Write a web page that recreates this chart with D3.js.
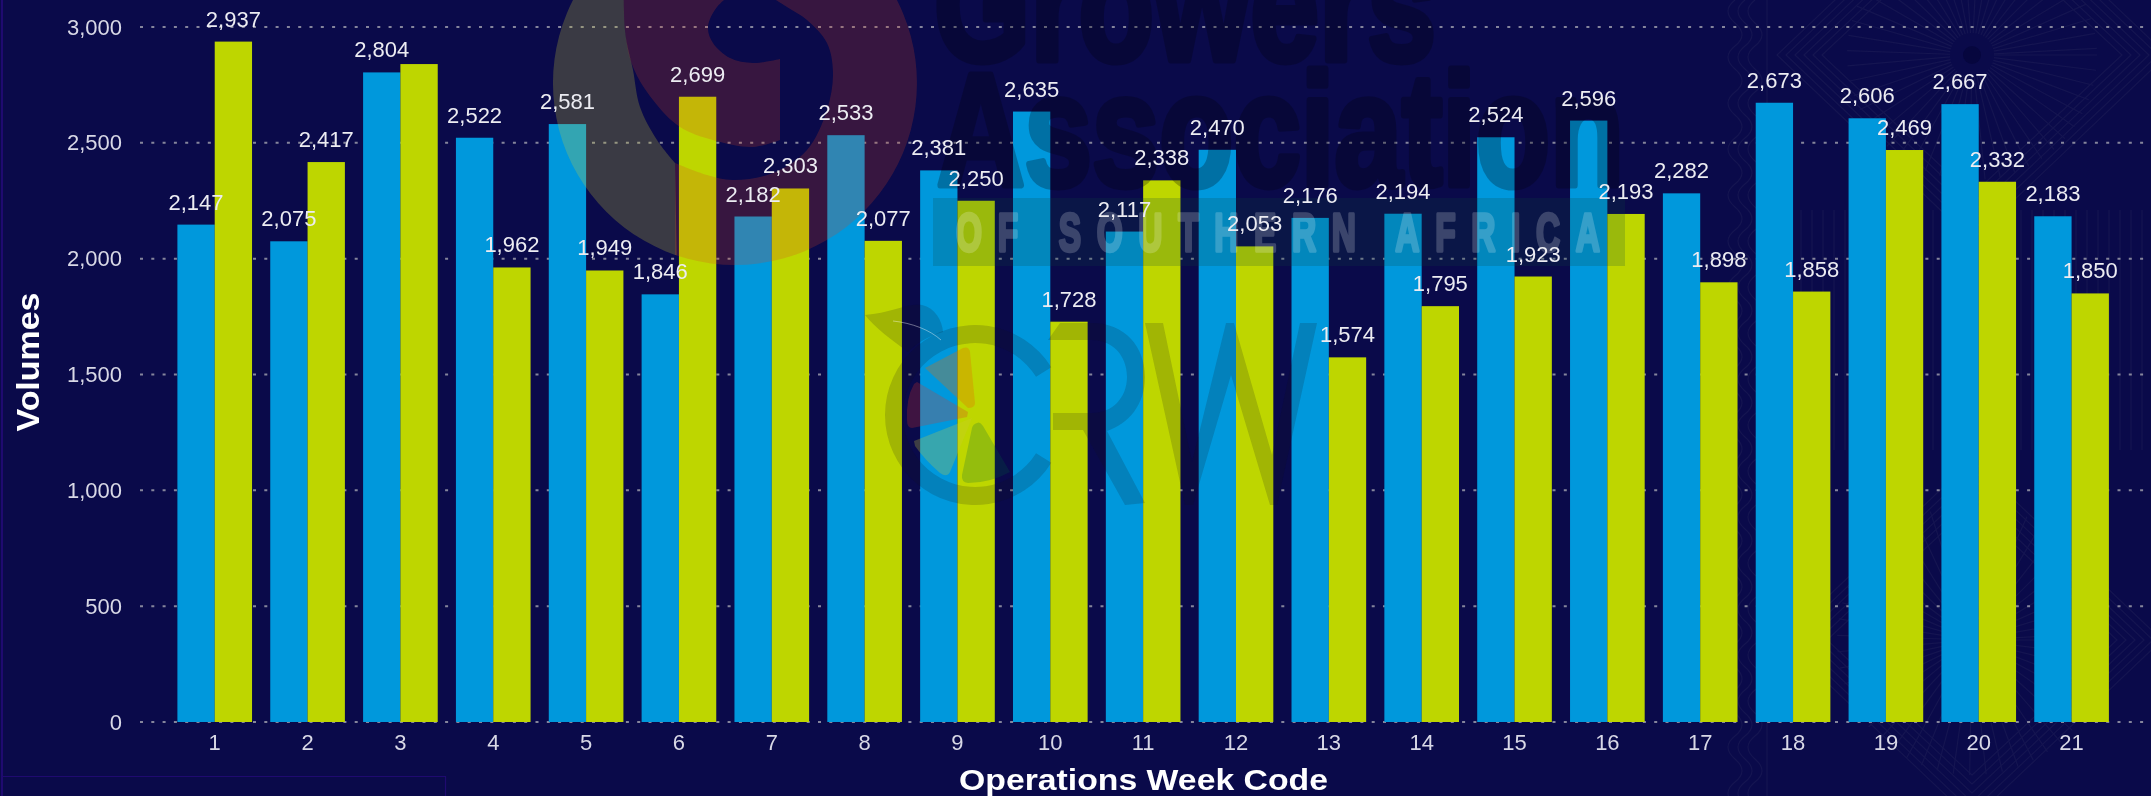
<!DOCTYPE html>
<html>
<head>
<meta charset="utf-8">
<script src="https://cdn.jsdelivr.net/npm/d3@7"></script>
<style>
html,body{margin:0;padding:0;background:#0a0a4a;overflow:hidden}
svg{display:block;filter:blur(0.55px)}
text{font-family:"Liberation Sans",Arial,sans-serif}
</style>
</head>
<body>
<svg id="chart" width="2151" height="796"></svg>
<script>
const weeks = d3.range(1, 22).map(String);
const blueValues = [2147,2075,2804,2522,2581,1846,2182,2533,2381,2635,2117,2470,2176,2194,2524,2596,2282,2673,2606,2667,2183];
const greenValues = [2937,2417,2840,1962,1949,2699,2303,2077,2250,1728,2338,2053,1574,1795,1923,2193,1898,1858,2469,2332,1850];
const unlabeledGreenWeeks = ["3"];
const yTicks = [0,500,1000,1500,2000,2500,3000];
const seriesNames = ["blue","green"];
const seriesColors = ["#0098dc","#bed600"];
const yTitle = "Volumes";
const xTitle = "Operations Week Code";

const svg = d3.select("#chart");
const fmt = d3.format(",");
const x = d3.scaleBand().domain(weeks).range([168.3,2118]).paddingInner(0.196).paddingOuter(0.098);
const xs = d3.scaleBand().domain(seriesNames).range([0,x.bandwidth()]);
const y = d3.scaleLinear().domain([0,3000]).range([722,27]);
const color = d3.scaleOrdinal(seriesNames, seriesColors);
const rows = weeks.flatMap((w,i)=>[
  {week:w,series:"blue",value:blueValues[i]},
  {week:w,series:"green",value:greenValues[i]}
]);

svg.append("rect").attr("width",2151).attr("height",796).attr("fill","#0a0a4a");

/* faint background ornament */
const orn = svg.append("g").attr("fill","none").attr("stroke","#151551").attr("stroke-width",1.2);
[[1972,55],[1972,640]].forEach(([cx,cy],k)=>{
  d3.range(0,360,7).forEach(a=>{
    const r=a*Math.PI/180;
    orn.append("line").attr("x1",cx+Math.cos(r)*22).attr("y1",cy+Math.sin(r)*22)
      .attr("x2",cx+Math.cos(r)*(k?135:125)).attr("y2",cy+Math.sin(r)*(k?135:125));
  });
  d3.range(0,6).forEach(i=>{
    const R=(k?125:130)+i*9;
    orn.append("path").attr("stroke-linejoin","round")
      .attr("d",`M${cx-R-20},${cy}L${cx},${cy-R-10}L${cx+R+20},${cy}L${cx},${cy+R+10}Z`);
  });
});
[1735,1745,1755].forEach(px=>{
  let d=`M${px},0`;
  for(let py=0;py<796;py+=46){d+=`q-14,11 0,23 q14,12 0,23`;}
  orn.append("path").attr("d",d);
});
orn.append("line").attr("x1",1767).attr("x2",1767).attr("y1",0).attr("y2",796);
d3.range(1790,2151,11).forEach(px=>{
  orn.append("line").attr("x1",px).attr("x2",px).attr("y1",210).attr("y2",450);
});
svg.append("circle").attr("cx",1972).attr("cy",55).attr("r",9).attr("fill","#06063e");

/* edge frame */
svg.append("rect").attr("x",1).attr("y",0).attr("width",2).attr("height",796).attr("fill","#1f0a70");
svg.append("path").attr("d","M3,776.5H445.5V796").attr("fill","none").attr("stroke","#1f0a70").attr("stroke-width",1.2);

/* grid + axes */
const yAxis = svg.append("g").attr("transform","translate(140,0)")
  .call(d3.axisLeft(y).tickValues(yTicks).tickFormat(fmt).tickSize(0).tickPadding(18));
yAxis.select(".domain").remove();
yAxis.selectAll("text").attr("font-size",22).attr("fill","#d8d8e6");
svg.append("g").selectAll("line").data(yTicks).join("line")
  .attr("x1",140).attr("x2",2148).attr("y1",d=>y(d)).attr("y2",d=>y(d))
  .attr("stroke","#c8c8c8").attr("stroke-opacity",0.65).attr("stroke-width",2).attr("stroke-dasharray","3 8.3");

const xAxis = svg.append("g").attr("transform","translate(0,722)")
  .call(d3.axisBottom(x).tickSize(0).tickPadding(12));
xAxis.select(".domain").remove();
xAxis.selectAll("text").attr("font-size",22).attr("fill","#d8d8e6").attr("dy","0.71em");

/* bars */
svg.append("g").selectAll("rect").data(rows).join("rect")
  .attr("x",d=>x(d.week)+xs(d.series))
  .attr("y",d=>y(d.value))
  .attr("width",xs.bandwidth())
  .attr("height",d=>y(0)-y(d.value))
  .attr("fill",d=>color(d.series));

/* watermark: G logo */
const wm = svg.append("g");
const ringOuter = "M735,-99A182,182 0 1 1 734.9,-99Z";
const clipId = "gclip";
svg.append("defs").append("clipPath").attr("id",clipId).append("path").attr("d",ringOuter);
const gLogo = wm.append("g").attr("clip-path",`url(#${clipId})`);
const spline = d3.line().curve(d3.curveCatmullRom.alpha(0.5));
const grayEdge = [[625,-100],[625,30],[633,70],[640,107],[657,140],[675,163]];
gLogo.append("path").attr("fill","rgba(205,205,50,.25)")
  .attr("d",spline(grayEdge)+"L677,270H540V-100Z");
const holeOuter = [[675,163],[707,175],[733,180],[773,173],[807,150],[827,110],[833,73],[827,43],[807,20],[787,7],[760,-10]];
const holeInner = [[737,-10],[717,7],[708,27],[713,43],[730,58],[753,63],[780,59]];
const bandInner = [[780,140],[753,147],[713,140],[680,127],[653,100],[633,67],[625,30],[625,-100]];
gLogo.append("path").attr("fill","rgba(218,70,30,.22)")
  .attr("d","M625,-100H930V270H675V163"+spline(holeOuter).replace(/^M/,"L")+spline(holeInner).replace(/^M/,"L")+"L780,140"+spline(bandInner).replace(/^M/,"L")+"Z");

/* watermark: wordmark */
const word = wm.append("g").attr("opacity",0.26);
const heavy = s=>s.attr("font-size",160).attr("font-weight",700).attr("lengthAdjust","spacingAndGlyphs")
  .attr("fill","#000008").attr("stroke","#000008").attr("stroke-width",7).attr("stroke-linejoin","round");
word.append("text").text("Growers").attr("x",934).attr("y",60).attr("textLength",502).call(heavy);
word.append("text").text("Association").attr("x",937).attr("y",185).attr("textLength",687).call(heavy);
wm.append("rect").attr("x",933).attr("y",198).attr("width",692).attr("height",68).attr("fill","rgba(10,70,60,.2)");
wm.append("g").attr("transform","scale(.62,1)").attr("opacity",0.2)
  .append("text").text("OF SOUTHERN AFRICA").attr("x",956/.62).attr("y",251).attr("font-size",54).attr("font-weight",700)
  .attr("textLength",644/.62).attr("lengthAdjust","spacing").attr("fill","#fff")
  .attr("stroke","#fff").attr("stroke-width",3.5).attr("stroke-linejoin","round");

/* watermark: CRW logo */
const dark = "rgba(15,15,25,.17)";
wm.append("path").attr("transform","translate(975,415)").attr("fill",dark)
  .attr("d",d3.arc().innerRadius(72).outerRadius(90).startAngle(122*Math.PI/180).endAngle((360+58)*Math.PI/180)());
wm.append("path").attr("fill",dark).attr("d","M865,315C890,313 908,303 922,305C935,308 942,320 943,332C925,337 915,345 908,352C892,340 875,328 865,315Z");
wm.append("path").attr("fill","none").attr("stroke","rgba(255,255,255,.4)").attr("stroke-width",1).attr("d","M893,321C912,323 930,330 941,340");
wm.append("path").attr("fill",dark).attr("d","M1048,340L1060,323H1092C1125,323 1145,347 1145,377C1145,405 1128,424 1107,431L1145,503L1125,505L1083,430H1053V413H1092C1112,413 1127,398 1127,377C1127,355 1112,340 1092,340Z");
wm.append("path").attr("fill",dark).attr("d","M1145,323H1163L1192,462L1226,323H1234L1272,455L1300,323H1317L1277,505H1270L1231,375L1193,505H1185Z");
wm.append("path").attr("fill","rgba(230,110,0,.3)").attr("d","M925,368L963,348Q969,346 970,352L975,403Q975,408 968,408Z");
wm.append("path").attr("fill","rgba(218,50,40,.25)").attr("d","M917,382L968,412L967,417L912,428Q907,428 907,420Q906,398 914,384Z");
wm.append("path").attr("fill","rgba(205,205,50,.27)").attr("d","M972,418L950,472Q947,478 940,473Q925,460 915,446L914,441Z");
wm.append("path").attr("fill","rgba(0,100,60,.22)").attr("d","M977,423Q980,421 983,426L1010,472Q990,483 968,483Q961,482 962,475L972,428Q973,424 977,423Z");

/* value labels */
svg.append("g").selectAll("text")
  .data(rows.filter(d=>!(d.series==="green" && unlabeledGreenWeeks.includes(d.week))))
  .join("text")
  .text(d=>fmt(d.value))
  .attr("x",d=>x(d.week)+xs(d.series)+xs.bandwidth()/2)
  .attr("y",d=>y(d.value)-15)
  .attr("text-anchor","middle").attr("font-size",22).attr("fill","#ececf2");

/* axis titles */
svg.append("text").text(xTitle).attr("x",959).attr("y",790).attr("font-size",28.6).attr("font-weight",700)
  .attr("textLength",369).attr("lengthAdjust","spacingAndGlyphs").attr("fill","#ffffff");
svg.append("text").text(yTitle).attr("transform","translate(39,362) rotate(-90)").attr("text-anchor","middle")
  .attr("font-size",32).attr("font-weight",700).attr("textLength",139).attr("lengthAdjust","spacingAndGlyphs").attr("fill","#ffffff");
</script>
</body>
</html>
